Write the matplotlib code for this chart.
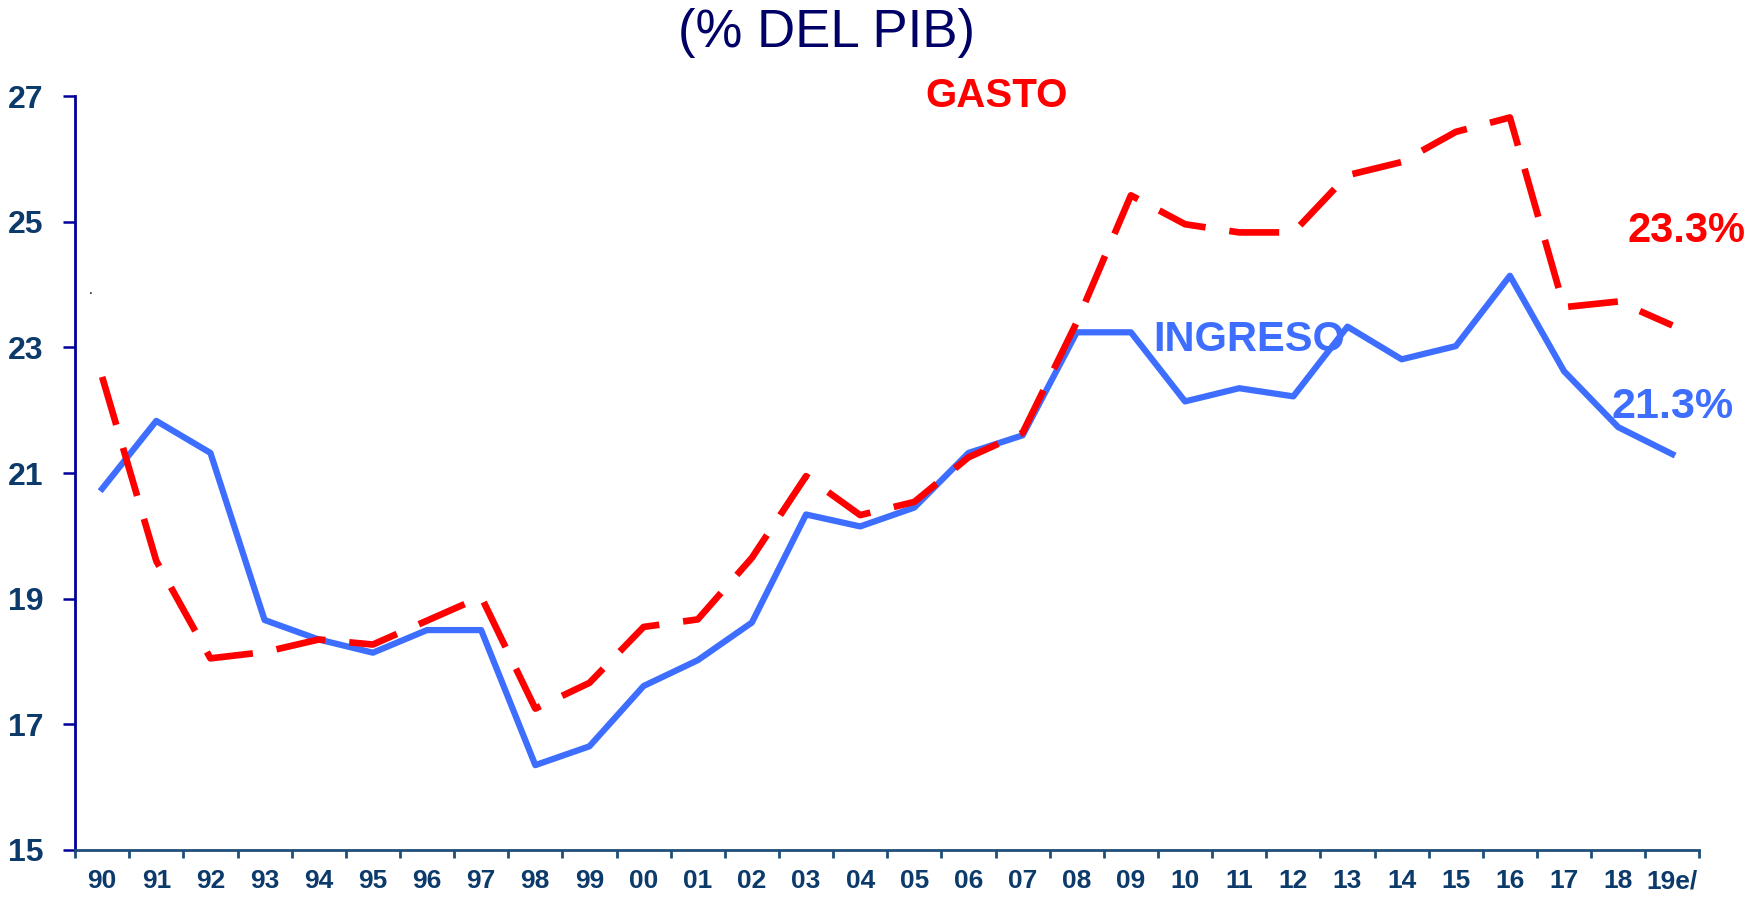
import matplotlib
matplotlib.use("Agg")
import matplotlib.pyplot as plt
import numpy as np

plt.rcParams['font.family'] = ['Liberation Sans', 'DejaVu Sans']

years = ['90', '91', '92', '93', '94', '95', '96', '97', '98', '99',
         '00', '01', '02', '03', '04', '05', '06', '07', '08', '09',
         '10', '11', '12', '13', '14', '15', '16', '17', '18', '19e/']

ingreso = [20.75, 21.83, 21.32, 18.66, 18.35, 18.14, 18.50, 18.50, 16.35, 16.65,
           17.61, 18.02, 18.62, 20.34, 20.15, 20.45, 21.32, 21.60, 23.24, 23.24,
           22.14, 22.35, 22.22, 23.33, 22.81, 23.02, 24.14, 22.62, 21.73, 21.30]

gasto = [22.53, 19.60, 18.05, 18.15, 18.35, 18.27, 18.65, 19.03, 17.25, 17.66,
         18.55, 18.67, 19.65, 20.95, 20.33, 20.54, 21.25, 21.64, 23.40, 25.42,
         24.96, 24.83, 24.83, 25.74, 25.95, 26.43, 26.66, 23.64, 23.73, 23.35]

y_ticks = [15, 17, 19, 21, 23, 25, 27]

navy = '#0b3a6b'
blue = '#3d6eff'
red = '#ff0000'

fig = plt.figure(figsize=(17.5, 8.98), dpi=100)
ax = fig.add_axes([0.0429, 0.0535, 0.9282, 0.8395])

x = np.arange(len(years))
ax.plot(x, ingreso, color=blue, lw=4.5)
ax.plot(x, gasto, color=red, lw=4.8, dashes=(7.5, 3.6), dash_capstyle='butt')

ax.set_xlim(-0.5, len(years) - 0.5)
ax.set_ylim(15, 27)
ax.set_yticks(y_ticks)
ax.set_yticklabels([str(v) for v in y_ticks], fontsize=23, fontweight='bold',
                   color=navy)
ax.set_xticks(x)
ax.set_xticklabels(years, fontsize=19, fontweight='bold', color=navy)
ax.set_xticks(np.arange(-0.5, len(years), 1.0), minor=True)

for s in ['top', 'right']:
    ax.spines[s].set_visible(False)
ax.spines['left'].set_color('#000099')
ax.spines['left'].set_linewidth(2)
ax.spines['bottom'].set_color('#1f4e79')
ax.spines['bottom'].set_linewidth(2)

ax.tick_params(axis='x', which='major', length=0, pad=14)
ax.tick_params(axis='x', which='minor', length=6, width=2, color='#1f4e79',
               direction='out')
ax.tick_params(axis='y', length=9, width=1.8, color='#000099', pad=14)

fig.text(0.472, 0.948, '(% DEL PIB)', ha='center', va='baseline',
         fontsize=38, color='#000066')

ax.text(16.52, 27.0, 'GASTO', ha='center', va='center', fontsize=29,
        fontweight='bold', color=red)
ax.text(21.19, 23.12, 'INGRESO', ha='center', va='center', fontsize=30,
        fontweight='bold', color=blue)
ax.text(29.26, 24.85, '23.3%', ha='center', va='center', fontsize=30,
        fontweight='bold', color=red)
ax.text(29.0, 22.05, '21.3%', ha='center', va='center', fontsize=31,
        fontweight='bold', color=blue)
ax.text(-0.22, 23.91, '.', ha='center', va='center', fontsize=10,
        color='black')

fig.savefig('out.png', dpi=100)
